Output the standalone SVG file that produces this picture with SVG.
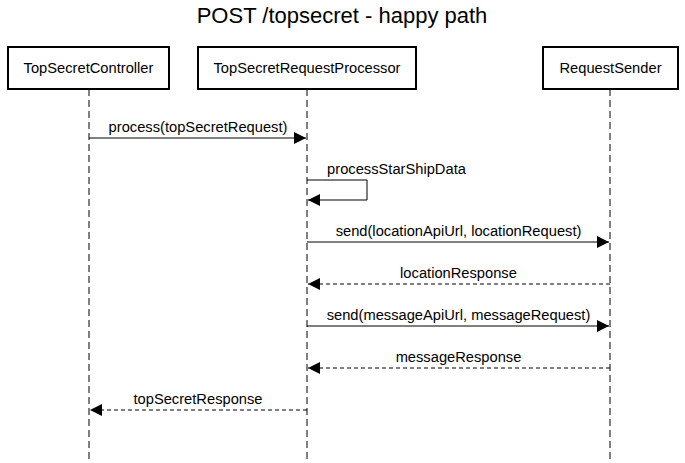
<svg xmlns="http://www.w3.org/2000/svg" width="685" height="463" viewBox="0 0 685 463">
<style>
text{font-family:"Liberation Sans",Arial,sans-serif;fill:#000}
.title{font-size:22px;text-anchor:middle}
.lbl{font-size:14.7px;text-anchor:middle}
.box{fill:#fff;stroke:#000;stroke-width:2}
.life{stroke:#000;stroke-width:1;stroke-dasharray:7 4;fill:none}
.msg{stroke:#000;stroke-width:1;fill:none}
.ret{stroke:#000;stroke-width:1;fill:none;stroke-dasharray:4 3}
</style>
<defs>
<marker id="ah" viewBox="0 0 12 12" refX="12" refY="6" markerWidth="12" markerHeight="12" markerUnits="userSpaceOnUse" orient="auto">
<path d="M0,0 L12,6 L0,12 Z" fill="#000"/>
</marker>
</defs>
<rect width="685" height="463" fill="#fff"/>
<text class="title" x="342" y="23">POST /topsecret - happy path</text>
<g id="lifelines">
<line class="life" x1="89" y1="89" x2="89" y2="463"/>
<line class="life" x1="307" y1="89" x2="307" y2="463"/>
<line class="life" x1="610" y1="89" x2="610" y2="463"/>
</g>
<g id="TopSecretController">
<rect class="box" x="8" y="47" width="161" height="42"/>
<text class="lbl" x="88.5" y="73">TopSecretController</text>
</g>
<g id="TopSecretRequestProcessor">
<rect class="box" x="198" y="47" width="218" height="42"/>
<text class="lbl" x="307" y="73">TopSecretRequestProcessor</text>
</g>
<g id="RequestSender">
<rect class="box" x="543" y="47" width="135" height="42"/>
<text class="lbl" x="610.5" y="73">RequestSender</text>
</g>
<g id="connectors">
<line class="msg" x1="89" y1="138" x2="306" y2="138" marker-end="url(#ah)"/>
<text class="lbl" x="198" y="132">process(topSecretRequest)</text>
<path class="msg" d="M307,180 H367 V200 H308" marker-end="url(#ah)"/>
<text class="lbl" x="396.5" y="174">processStarShipData</text>
<line class="msg" x1="307" y1="242" x2="609" y2="242" marker-end="url(#ah)"/>
<text class="lbl" x="458.5" y="236">send(locationApiUrl, locationRequest)</text>
<line class="ret" x1="610" y1="284" x2="308" y2="284" marker-end="url(#ah)"/>
<text class="lbl" x="458.5" y="278">locationResponse</text>
<line class="msg" x1="307" y1="326" x2="609" y2="326" marker-end="url(#ah)"/>
<text class="lbl" x="458.5" y="320">send(messageApiUrl, messageRequest)</text>
<line class="ret" x1="610" y1="368" x2="308" y2="368" marker-end="url(#ah)"/>
<text class="lbl" x="458.5" y="362">messageResponse</text>
<line class="ret" x1="307" y1="410" x2="90" y2="410" marker-end="url(#ah)"/>
<text class="lbl" x="198" y="404">topSecretResponse</text>
</g>
</svg>
